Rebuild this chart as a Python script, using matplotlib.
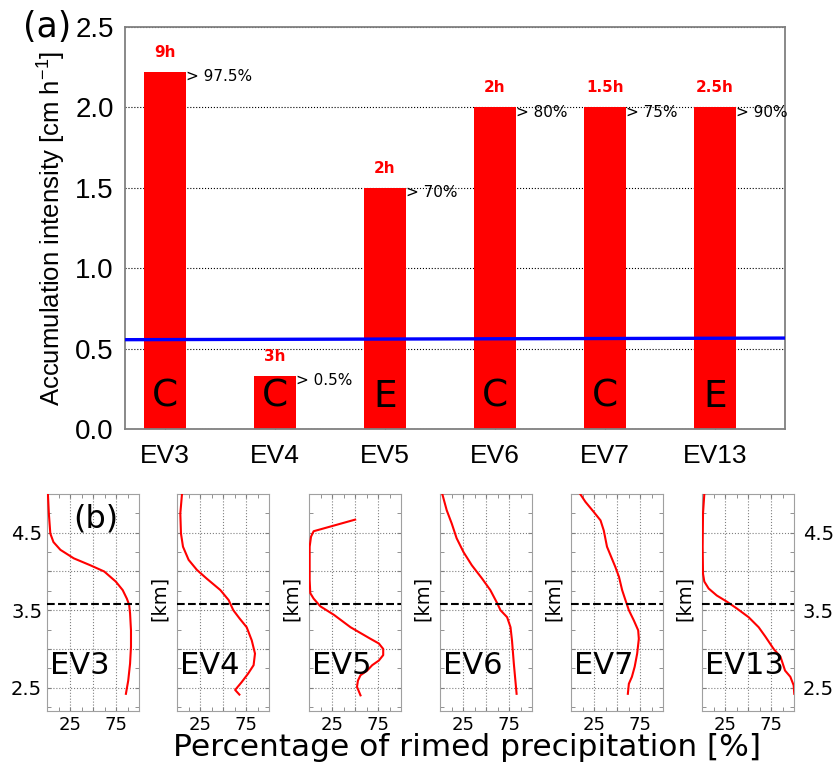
import matplotlib.pyplot as plt
import numpy as np

plt.rcParams['font.family'] = ['DejaVu Sans']
plt.rcParams['mathtext.fontset'] = 'custom'
plt.rcParams['mathtext.rm'] = 'Liberation Sans'

# ---- panel (a) data
events = ['EV3', 'EV4', 'EV5', 'EV6', 'EV7', 'EV13']
intensity = [2.22, 0.33, 1.5, 2.0, 2.0, 2.0]
hours = ['9h', '3h', '2h', '2h', '1.5h', '2.5h']
rimed_pct = ['> 97.5%', '> 0.5%', '> 70%', '> 80%', '> 75%', '> 90%']
cloud_type = ['C', 'C', 'E', 'C', 'C', 'E']
threshold_x = [-0.36, 5.64]
threshold_y = [0.555, 0.565]

# ---- panel (b) data: rimed percentage [%] vs height [km]
prof_pct = {
    'EV3': [1, 2, 3.6, 7, 14.5, 29, 47, 62, 74.5, 82, 86.5, 89, 90, 91, 91, 90, 88, 85.5],
    'EV4': [5.4, 3.6, 4.3, 6.5, 12.6, 21.6, 32, 47, 56, 61, 68, 75.5, 81, 84.5, 83, 77, 70, 63, 67.6],
    'EV5': [50, 5, 2.2, 0.7, 0.7, 0.7, 1.4, 5, 12.3, 27, 45, 66.7, 75.7, 80.4, 80.4, 75.7,
            68.5, 63, 55.8, 53, 52, 55.8],
    'EV6': [2.5, 7.3, 12.7, 18, 25.5, 34.5, 45.5, 54.5, 62, 65.5, 72.7, 76.4, 78, 80, 82, 83],
    'EV7': [10, 15.6, 24.6, 32, 35.5, 39, 42.8, 48, 52, 55.4, 59, 62.7, 68, 72.8, 73.5, 71.7,
            69, 66, 62.7, 61.6],
    'EV13': [2.5, 1.1, 0.7, 1.1, 2.5, 7.2, 16, 27, 38, 50.5, 61.4, 68.6, 77.6, 85, 90, 95.7,
             99.3, 100],
}
prof_km = {
    'EV3': [5.0, 4.75, 4.49, 4.38, 4.28, 4.17, 4.08, 4.0, 3.87, 3.76, 3.65, 3.57, 3.46, 3.24,
            3.03, 2.81, 2.59, 2.42],
    'EV4': [5.0, 4.75, 4.49, 4.32, 4.15, 4.02, 3.91, 3.76, 3.63, 3.5, 3.39, 3.28, 3.11, 2.94,
            2.79, 2.68, 2.57, 2.47, 2.41],
    'EV5': [4.67, 4.52, 4.45, 4.32, 4.1, 3.89, 3.72, 3.65, 3.55, 3.44, 3.28, 3.13, 3.07, 3.0,
            2.92, 2.85, 2.79, 2.72, 2.66, 2.59, 2.51, 2.4],
    'EV6': [5.0, 4.79, 4.62, 4.43, 4.25, 4.08, 3.91, 3.76, 3.59, 3.5, 3.41, 3.28, 3.11, 2.81,
            2.55, 2.42],
    'EV7': [5.0, 4.9, 4.77, 4.66, 4.53, 4.32, 4.21, 4.06, 3.93, 3.76, 3.63, 3.5, 3.37, 3.24,
            3.13, 2.94, 2.77, 2.64, 2.55, 2.42],
    'EV13': [5.0, 4.75, 4.32, 3.97, 3.87, 3.78, 3.69, 3.61, 3.52, 3.41, 3.28, 3.16, 3.0, 2.9,
             2.72, 2.64, 2.53, 2.42],
}
melting_km = 3.58

fig = plt.figure(figsize=(8.39, 7.66), dpi=100)

# ================= (a)
ax = fig.add_axes([0.149, 0.44, 0.787, 0.525])
x = np.arange(len(events))
w = 0.38
ax.bar(x, intensity, width=w, color='red', zorder=2)
ax.plot(threshold_x, threshold_y, color='blue', lw=2.4, zorder=3)
for i in range(len(events)):
    ax.text(x[i], intensity[i] + 0.12, hours[i], color='red', fontweight='bold',
            fontsize=11, ha='center', va='center')
    ax.text(x[i] + w / 2, intensity[i] - 0.03, rimed_pct[i], fontsize=11,
            ha='left', va='center', zorder=4)
    ax.text(x[i], 0.2, cloud_type[i], fontsize=27, ha='center', va='center', zorder=4)
ax.set_xlim(-0.36, 5.64)
ax.set_ylim(0, 2.5)
ax.set_xticks(x)
ax.set_xticklabels(events, fontsize=19, family='Liberation Sans')
ax.set_yticks([0, 0.5, 1.0, 1.5, 2.0, 2.5])
ax.set_yticklabels(['0.0', '0.5', '1.0', '1.5', '2.0', '2.5'], fontsize=20,
                   family='Liberation Sans')
ax.tick_params(axis='x', direction='in', length=5, pad=11)
ax.tick_params(axis='y', length=0, pad=8)
ax.yaxis.grid(True, linestyle=':', color='black', lw=0.8, zorder=1)
ax.set_axisbelow(True)
for s in ax.spines.values():
    s.set_color('#808080')
    s.set_linewidth(1.3)
ax.set_ylabel('Accumulation intensity [cm h$^{-1}$]', fontsize=18.5,
              family='Liberation Sans', labelpad=6)
fig.text(0.027, 0.965, '(a)', fontsize=25, ha='left', va='center')

# ================= (b)
lefts = [47, 177, 309, 440, 571, 702]
for k, ev in enumerate(events):
    a = fig.add_axes([lefts[k] / 839, 0.072, 0.110, 0.283])
    a.plot(prof_pct[ev], prof_km[ev], color='red', lw=1.5, zorder=3)
    a.axhline(melting_km, color='black', ls='--', lw=1.5, zorder=4)
    a.set_xlim(0, 100)
    a.set_ylim(2.2, 5.0)
    a.set_xticks([25, 50, 75])
    a.set_xticklabels(['25', '', '75'], fontsize=13)
    a.set_xticks([12.5, 37.5, 62.5, 87.5], minor=True)
    a.set_yticks([2.5, 3.0, 3.5, 4.0, 4.5])
    a.set_yticks([2.25, 2.75, 3.25, 3.75, 4.25, 4.75], minor=True)
    a.grid(True, which='major', linestyle=':', color='#808080', lw=0.8)
    a.tick_params(which='both', direction='in', top=True, right=True,
                  color='#808080', length=3)
    a.tick_params(axis='x', pad=4)
    if k == 0:
        a.set_yticklabels(['2.5', '', '3.5', '', '4.5'], fontsize=14)
    elif k == len(events) - 1:
        a.set_yticklabels(['2.5', '', '3.5', '', '4.5'], fontsize=14)
        a.tick_params(axis='y', labelleft=False, labelright=True, pad=6)
    else:
        a.set_yticklabels([])
    if k > 0:
        a.text(-0.19, 0.52, '[km]', rotation=90, fontsize=14, ha='center', va='center',
               transform=a.transAxes)
    for s in a.spines.values():
        s.set_color('#a0a0a0')
    a.text(0.03, 0.21, ev, fontsize=22, ha='left', va='center', transform=a.transAxes,
           zorder=5)
    if k == 0:
        a.text(0.53, 0.885, '(b)', fontsize=23, ha='center', va='center',
               transform=a.transAxes)

fig.text(0.557, 0.024, 'Percentage of rimed precipitation [%]', fontsize=22.5,
         ha='center', va='center')

fig.savefig('out.png', dpi=100)
